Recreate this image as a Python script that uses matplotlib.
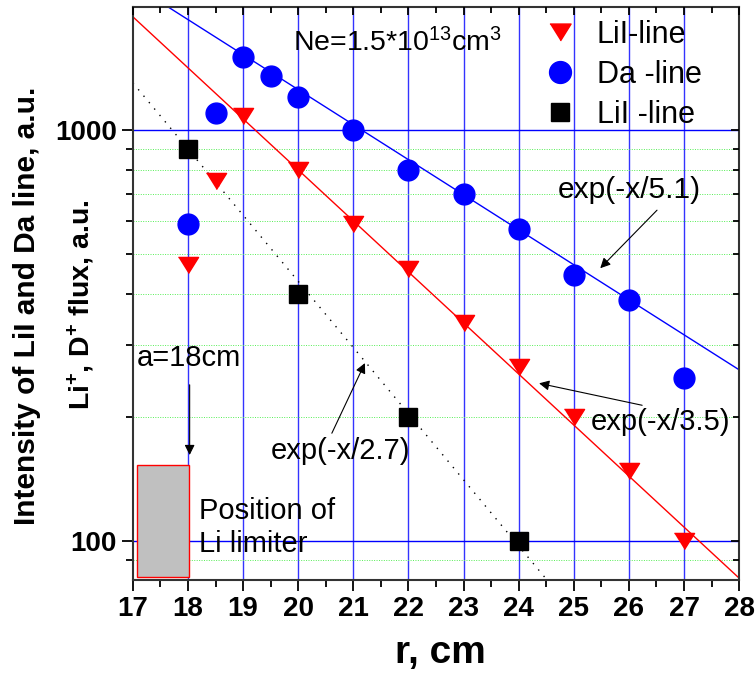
import numpy as np
import matplotlib
matplotlib.use("Agg")
import matplotlib.pyplot as plt
from matplotlib.patches import Rectangle
from matplotlib.ticker import FixedLocator, FixedFormatter, NullFormatter, LogLocator

plt.rcParams['font.family'] = ['Liberation Sans', 'DejaVu Sans']
plt.rcParams['mathtext.default'] = 'regular'

# LiI-line (red triangles)
lil_r = [18, 18.5, 19, 20, 21, 22, 23, 24, 25, 26, 27]
lil_val = [470, 750, 1080, 800, 590, 460, 340, 265, 200, 148, 100]

# Da-line (blue circles)
da_r = [18, 18.5, 19, 19.5, 20, 21, 22, 23, 24, 25, 26, 27]
da_val = [590, 1100, 1500, 1350, 1200, 1000, 800, 700, 575, 445, 385, 250]

# LiI -line (black squares)
sq_r = [18, 20, 22, 24]
sq_val = [900, 400, 200, 100]

# exponential fits: decay length, anchor r, value at anchor
fit_blue = (5.1, 28, 261)
fit_red = (3.5, 28, 81.3)
fit_black = (2.7, 17, 1301)

x_ticks = [17, 18, 19, 20, 21, 22, 23, 24, 25, 26, 27, 28]
y_ticks = [100, 1000]
y_labels = ['100', '1000']


def fit_line(fit, x):
    lam, x0, y0 = fit
    return y0 * np.exp(-(x - x0) / lam)


def arrow(ax, head, tail):
    ax.annotate('', xy=head, xytext=tail,
                arrowprops=dict(arrowstyle='-|>', color='black', lw=0.8, mutation_scale=15,
                                shrinkA=0, shrinkB=0), zorder=5)


fig = plt.figure(figsize=(7.55, 6.73), dpi=100)
ax = fig.add_axes([0.176, 0.138, 0.803, 0.8516])
ax.set_yscale('log')
ax.set_xlim(17, 28)
ax.set_ylim(80.4, 1990)

# grid
for xv in x_ticks[1:-1]:
    ax.axvline(xv, color='#0000ff', lw=1.0, alpha=0.8, zorder=1)
for yv in y_ticks:
    ax.axhline(yv, color='#0000ff', lw=1.0, zorder=1)
for yv in [90, 200, 300, 400, 500, 600, 700, 800, 900]:
    ax.axhline(yv, color='#55ee55', lw=0.7, ls=(0, (1, 1.5)), zorder=1)

xx = np.linspace(17, 28, 200)
ax.plot(xx, fit_line(fit_blue, xx), color='blue', lw=1.0, zorder=2)
ax.plot(xx, fit_line(fit_red, xx), color='red', lw=1.0, zorder=2)
ax.plot(xx, fit_line(fit_black, xx), color='black', lw=1.0, ls=(0, (1, 5)), zorder=2)

tri = [(-1, 0.8), (1, 0.8), (0, -0.8)]
ax.plot(lil_r, lil_val, ls='none', marker=tri, ms=14.5, color='red', label='LiI-line', zorder=4)
ax.plot(da_r, da_val, ls='none', marker='o', ms=15, color='blue', label='Da -line', zorder=4)
ax.plot(sq_r, sq_val, ls='none', marker='s', ms=13, color='black', label='LiI -line', zorder=4)

# limiter
ax.add_patch(Rectangle((17.07, 81.7), 0.95, 153 - 81.7, facecolor='#c0c0c0',
                       edgecolor='red', lw=1.0, zorder=3))

ax.text(18.2, 108, 'Position of\nLi limiter', fontsize=21, va='center', ha='left', zorder=5)
ax.text(17.07, 279, 'a=18cm', fontsize=21, va='center', ha='left', zorder=5)
arrow(ax, (18.03, 162), (18.03, 240))

ax.text(19.5, 166, 'exp(-x/2.7)', fontsize=21, va='center', ha='left', zorder=5)
arrow(ax, (21.21, 271), (20.61, 183))

ax.text(25.31, 195, 'exp(-x/3.5)', fontsize=21, va='center', ha='left', zorder=5)
arrow(ax, (24.37, 242), (26.24, 214))

ax.text(24.70, 714, 'exp(-x/5.1)', fontsize=21.5, va='center', ha='left', zorder=5)
arrow(ax, (25.48, 461), (26.51, 638))

ax.text(19.9, 1549, r'Ne=1.5*10$^{13}$cm$^{3}$', fontsize=20.5, va='baseline', ha='left', zorder=5)

ax.legend(loc='upper left', bbox_to_anchor=(0.681, 0.978), frameon=False, fontsize=22,
          borderpad=0, handlelength=0.95, handletextpad=0.72, labelspacing=0.33,
          borderaxespad=0, markerscale=1.05)

# ticks
ax.xaxis.set_major_locator(FixedLocator(x_ticks))
ax.xaxis.set_minor_locator(FixedLocator(np.arange(17.5, 28, 1.0)))
ax.yaxis.set_major_locator(FixedLocator(y_ticks))
ax.yaxis.set_major_formatter(FixedFormatter(y_labels))
ax.yaxis.set_minor_locator(LogLocator(base=10, subs=np.arange(2, 10)))
ax.yaxis.set_minor_formatter(NullFormatter())
ax.tick_params(which='major', direction='out', length=8, width=1.3, labelsize=20)
ax.tick_params(which='minor', direction='out', length=5, width=1.3)
for lab in ax.get_xticklabels() + ax.get_yticklabels():
    lab.set_fontweight('bold')

for sp in ax.spines.values():
    sp.set_linewidth(1.5)
    sp.set_color('#333333')

# mirrored ticks on top and right, pointing inwards
axt = ax.twiny()
axt.set_xlim(ax.get_xlim())
axt.xaxis.set_major_locator(FixedLocator(x_ticks))
axt.xaxis.set_minor_locator(FixedLocator(np.arange(17.5, 28, 1.0)))
axt.tick_params(which='both', direction='in', labeltop=False, width=1.3)
axt.tick_params(which='major', length=6)
axt.tick_params(which='minor', length=4)
axr = ax.twinx()
axr.set_yscale('log')
axr.set_ylim(ax.get_ylim())
axr.yaxis.set_major_locator(FixedLocator(y_ticks))
axr.yaxis.set_minor_locator(LogLocator(base=10, subs=np.arange(2, 10)))
axr.yaxis.set_minor_formatter(NullFormatter())
axr.tick_params(which='both', direction='in', labelright=False, width=1.3)
axr.tick_params(which='major', length=6)
axr.tick_params(which='minor', length=4)
for a in (axt, axr):
    for sp in a.spines.values():
        sp.set_visible(False)

ax.set_xlabel('r, cm', fontsize=28, fontweight='bold', labelpad=8)
ax.xaxis.set_label_coords(0.508, -0.095)
fig.text(0.036, 1 - 306 / 673, 'Intensity of LiI and Da line, a.u.', rotation=90,
         fontsize=21.5, fontweight='bold', ha='center', va='center')
fig.text(0.108, 1 - 305 / 673, r'Li$^{+}$, D$^{+}$ flux, a.u.', rotation=90,
         fontsize=20.5, fontweight='bold', ha='center', va='center')

fig.savefig('out.png', dpi=100)
